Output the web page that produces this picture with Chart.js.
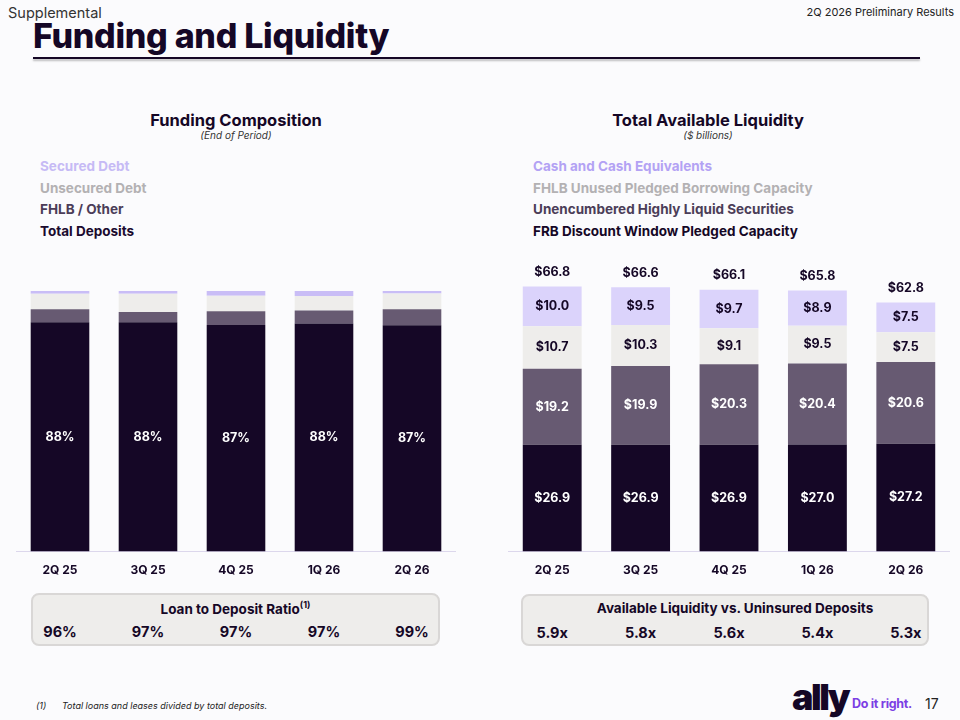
<!DOCTYPE html>
<html lang="en">
<head>
<meta charset="UTF-8">
<title>Funding and Liquidity</title>
<script src="https://cdn.jsdelivr.net/npm/chart.js"></script>
<style>
  body {
    margin: 0;
    width: 960px;
    height: 720px;
    background: #fbfbfd;
    font-family: 'Inter', 'Noto Sans', sans-serif;
    color: #150726;
    position: relative;
    overflow: hidden;
  }
  .abs { position: absolute; }
  #supp { left: 8px; top: 4px; font-size: 14.5px; color: #333; }
  #period { right: 6px; top: 5px; font-size: 11px; color: #222; }
  #title { left: 33px; top: 15px; font-size: 34px; font-weight: 800; letter-spacing: -0.3px; }
  #rule { left: 33px; top: 57px; width: 887px; height: 2px; background: #150726; box-shadow: 0 2px 2px rgba(0,0,0,0.25); }
  .ctitle { font-size: 16.5px; font-weight: 700; text-align: center; width: 300px; }
  .csub { font-size: 10px; font-style: italic; text-align: center; width: 300px; color: #333; }
  .legend div { font-size: 13.5px; font-weight: 700; height: 21.5px; line-height: 21.5px; white-space: nowrap; }
  .box { background: #eeedeb; border: 2px solid #d9d7d6; border-radius: 8px; box-sizing: border-box; }
  .boxtitle { font-size: 13.5px; font-weight: 700; text-align: center; width: 100%; position: absolute; top: 4px; }
  .boxval { position: absolute; font-size: 14.5px; font-weight: 700; transform: translateX(-50%); top: 28px; }
  #foot1 { left: 36px; top: 700px; font-size: 9px; font-style: italic; color: #222; }
  #foot2 { left: 62px; top: 700px; font-size: 9px; font-style: italic; color: #222; }
  #logo { left: 792px; top: 675px; font-size: 36px; font-weight: 900; letter-spacing: -2.5px; color: #150726; }
  #tag { left: 852px; top: 696px; font-size: 12.5px; font-weight: 700; color: #7b3fe4; letter-spacing: -0.3px; }
  #page { left: 925px; top: 695px; font-size: 14px; color: #222; }
  canvas { position: absolute; }
</style>
</head>
<body>
<div id="supp" class="abs">Supplemental</div>
<div id="period" class="abs">2Q 2026 Preliminary Results</div>
<div id="title" class="abs">Funding and Liquidity</div>
<div id="rule" class="abs"></div>

<div class="abs ctitle" style="left:86px; top:110px;">Funding Composition</div>
<div class="abs csub" style="left:86px; top:129px;">(End of Period)</div>
<div class="abs ctitle" style="left:558px; top:110px;">Total Available Liquidity</div>
<div class="abs csub" style="left:558px; top:129px;">($ billions)</div>

<div id="fundLegend" class="abs legend" style="left:40px; top:156px;"></div>
<div id="liqLegend" class="abs legend" style="left:533px; top:156px;"></div>

<canvas id="fundChart" width="440" height="309" style="left:16px; top:281px;"></canvas>
<canvas id="liqChart" width="442" height="340" style="left:508px; top:250px;"></canvas>

<div id="fundBox" class="abs box" style="left:31px; top:593px; width:409px; height:53px;">
  <div class="boxtitle">Loan to Deposit Ratio<sup style="font-size:9px;">(1)</sup></div>
</div>
<div id="liqBox" class="abs box" style="left:521px; top:594px; width:408px; height:52px;">
  <div class="boxtitle" style="padding-left:20px; box-sizing:border-box;">Available Liquidity vs. Uninsured Deposits</div>
</div>

<div id="foot1" class="abs">(1)</div>
<div id="foot2" class="abs">Total loans and leases divided by total deposits.</div>
<div id="logo" class="abs">ally</div>
<div id="tag" class="abs">Do it right.</div>
<div id="page" class="abs">17</div>

<script>
// quarters on both charts
const quarters = ["2Q 25", "3Q 25", "4Q 25", "1Q 26", "2Q 26"];

// Funding composition, % of total (bottom to top)
const fundNames = ["Total Deposits", "FHLB / Other", "Unsecured Debt", "Secured Debt"];
const deposits = [88, 88, 87, 87.5, 86.9];
const fhlbOther = [5.0, 3.9, 5.2, 5.0, 6.1];
const unsecured = [5.9, 7.0, 6.0, 5.6, 6.0];
const secured = [1.1, 1.1, 1.8, 1.9, 1.0];
const loanToDeposit = ["96%", "97%", "97%", "97%", "99%"];

// Total available liquidity, $ billions (bottom to top)
const liqNames = ["FRB Discount Window Pledged Capacity", "Unencumbered Highly Liquid Securities",
                  "FHLB Unused Pledged Borrowing Capacity", "Cash and Cash Equivalents"];
const frbWindow = [26.9, 26.9, 26.9, 27.0, 27.2];
const securities = [19.2, 19.9, 20.3, 20.4, 20.6];
const fhlbUnused = [10.7, 10.3, 9.1, 9.5, 7.5];
const cash = [10.0, 9.5, 9.7, 8.9, 7.5];
const liqTotals = [66.8, 66.6, 66.1, 65.8, 62.8];
const liqVsUninsured = ["5.9x", "5.8x", "5.6x", "5.4x", "5.3x"];

const fundColors = ["#150726", "#675a72", "#eeedeb", "#c9bdf6"];
const liqColors = ["#150726", "#675a72", "#eeedeb", "#dbd3fb"];
const fundLegendColors = ["#1a0a2e", "#4b3d58", "#b3b1b3", "#c6baf5"];
const liqLegendColors = ["#150726", "#4b3d58", "#b3b1b3", "#b3a2f4"];

// legends are text only, listed top segment first
function buildLegend(id, names, colors) {
    const el = document.getElementById(id);
    for (let i = names.length - 1; i >= 0; i--) {
        const d = document.createElement("div");
        d.textContent = names[i];
        d.style.color = colors[i];
        el.appendChild(d);
    }
}
buildLegend("fundLegend", fundNames, fundLegendColors);
buildLegend("liqLegend", liqNames, liqLegendColors);

const segLabels = {
    id: "segLabels",
    afterDatasetsDraw(chart, args, opts) {
        const ctx = chart.ctx;
        ctx.save();
        ctx.font = "700 12.5px Inter, 'Noto Sans', sans-serif";
        ctx.textAlign = "center";
        ctx.textBaseline = "middle";
        chart.data.datasets.forEach((ds, i) => {
            const color = opts.colors[i];
            if (!color) return;
            chart.getDatasetMeta(i).data.forEach((bar, j) => {
                ctx.fillStyle = color;
                ctx.fillText(opts.format(ds.data[j]), bar.x, (bar.y + bar.base) / 2);
            });
        });
        if (opts.totals) {
            const top = chart.getDatasetMeta(chart.data.datasets.length - 1).data;
            ctx.fillStyle = "#150726";
            top.forEach((bar, j) => {
                ctx.fillText("$" + opts.totals[j].toFixed(1), bar.x, bar.y - 14);
            });
        }
        ctx.restore();
    }
};

function makeChart(id, names, series, colors, yMax, padTop, labelOpts) {
    return new Chart(document.getElementById(id), {
        type: "bar",
        data: {
            labels: quarters,
            datasets: series.map((s, i) => ({
                label: names[i],
                data: s,
                backgroundColor: colors[i],
                borderWidth: 0,
                barPercentage: 0.666,
                categoryPercentage: 1
            }))
        },
        options: {
            responsive: false,
            animation: false,
            layout: { padding: { top: padTop, left: 0, right: 0, bottom: 0 } },
            plugins: {
                legend: { display: false },
                tooltip: { enabled: false },
                segLabels: labelOpts
            },
            scales: {
                x: {
                    stacked: true,
                    grid: { display: false, drawTicks: false },
                    border: { display: true, color: "#dcd7ec", width: 1 },
                    ticks: {
                        padding: 12,
                        color: "#150726",
                        font: { family: "Inter, 'Noto Sans', sans-serif", size: 12, weight: "bold" },
                        maxRotation: 0,
                        autoSkip: false
                    }
                },
                y: { stacked: true, display: false, min: 0, max: yMax }
            }
        },
        plugins: [segLabels]
    });
}

const fundChart = makeChart("fundChart", fundNames, [deposits, fhlbOther, unsecured, secured],
    fundColors, 100, 10,
    { colors: ["#ffffff", null, null, null], format: v => Math.round(v) + "%" });

const liqChart = makeChart("liqChart", liqNames, [frbWindow, securities, fhlbUnused, cash],
    liqColors, 75, 4,
    { colors: ["#ffffff", "#ffffff", "#150726", "#150726"], format: v => "$" + v.toFixed(1), totals: liqTotals });

// ratio rows sit under the bar centres
function fillBox(boxId, chart, canvasLeft, boxLeft, values) {
    const box = document.getElementById(boxId);
    values.forEach((v, i) => {
        const s = document.createElement("div");
        s.className = "boxval";
        s.textContent = v;
        s.style.left = (canvasLeft + chart.scales.x.getPixelForValue(i) - boxLeft - 2) + "px";
        box.appendChild(s);
    });
}
fillBox("fundBox", fundChart, 16, 31, loanToDeposit);
fillBox("liqBox", liqChart, 508, 521, liqVsUninsured);
</script>
</body>
</html>
